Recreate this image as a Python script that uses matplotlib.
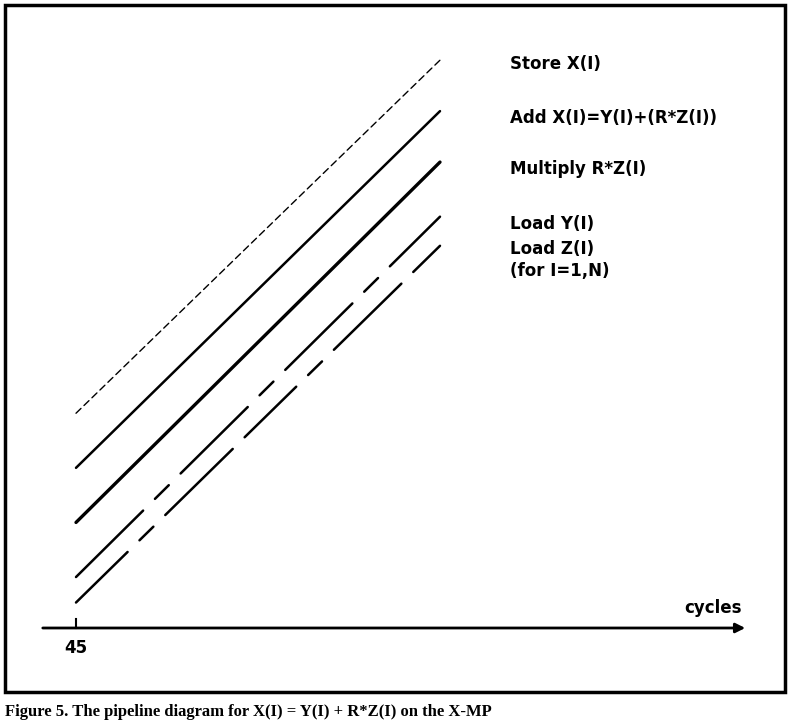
import matplotlib
matplotlib.use("Agg")
import matplotlib.pyplot as plt
from matplotlib.patches import Rectangle

plt.rcParams['lines.scale_dashes'] = False

labels = ["Store X(I)", "Add X(I)=Y(I)+(R*Z(I))", "Multiply R*Z(I)", "Load Y(I)", "Load Z(I)"]
x_start = [45, 45, 45, 45, 45]
x_end = [145, 145, 145, 145, 145]
y_start = [59, 44, 29, 14, 7]
y_end = [156, 142, 128, 113, 105]
styles = [(0, (5, 3)), '-', '-', (0, (68, 12, 14, 12)), (0, (52, 12, 14, 12, 68, 12))]
widths = [1.0, 1.8, 2.4, 1.8, 1.8]
label_y = [155, 140, 126, 111, 104]

fig = plt.figure(figsize=(7.9, 7.2), dpi=100)
ax = fig.add_axes([0, 0, 1, 1])
sc = 3.64
ax.set_xlim(45 - 76 / sc, 45 + (790 - 76) / sc)
ax.set_ylim(-(720 - 628) / sc, 628 / sc)
ax.axis('off')

for xs, xe, ys, ye, st, lw in zip(x_start, x_end, y_start, y_end, styles, widths):
    ax.plot([xs, xe], [ys, ye], color='black', lw=lw, linestyle=st, solid_capstyle='round', dash_capstyle='round')

for lab, ly in zip(labels, label_y):
    ax.text(45 + (510 - 76) / sc, ly, lab, fontsize=12, fontweight='bold', va='center', ha='left')
ax.text(45 + (510 - 76) / sc, 98, "(for I=1,N)", fontsize=12, fontweight='bold', va='center', ha='left')

ax.annotate('', xy=(45 + (748 - 76) / sc, 0), xytext=(45 - 36 / sc, 0),
            arrowprops=dict(arrowstyle='-|>', color='black', lw=2, mutation_scale=14))
ax.plot([45, 45], [0, 2.5], color='black', lw=1.5)
ax.text(45, -3, "45", fontsize=12, fontweight='bold', ha='center', va='top')
ax.text(45 + (742 - 76) / sc, 3, "cycles", fontsize=12, fontweight='bold', ha='right', va='bottom')

fig.patches.append(Rectangle((5 / 790, (720 - 692) / 720), 780 / 790, 687 / 720,
                             transform=fig.transFigure, fill=False, lw=2.5, color='black'))
fig.text(5 / 790, (720 - 704) / 720, "Figure 5. The pipeline diagram for X(I) = Y(I) + R*Z(I) on the X-MP",
         fontsize=12, fontweight='bold', family='Liberation Serif', ha='left', va='top')

fig.savefig("out.png", dpi=100)
